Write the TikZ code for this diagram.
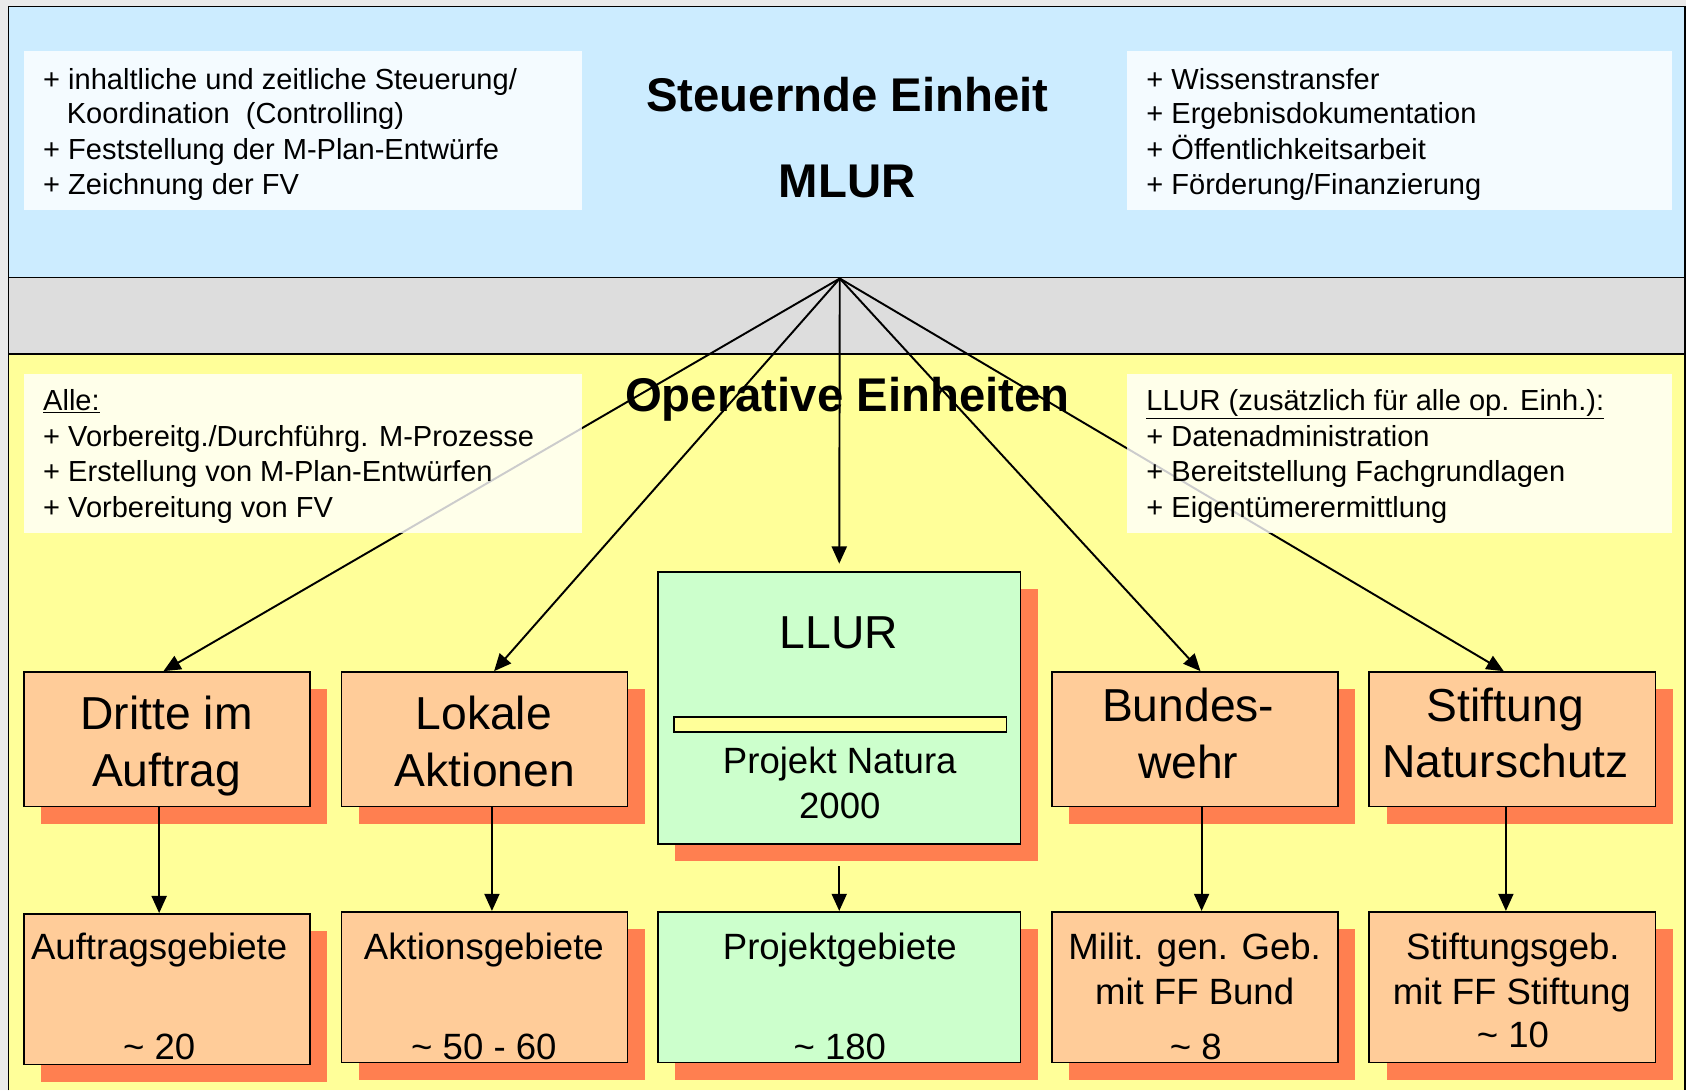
\documentclass[tikz,border=0pt]{standalone}
\usepackage{fontspec}
\setmainfont{Liberation Sans}
\usetikzlibrary{arrows.meta,shadows}
\definecolor{marginc}{HTML}{EAEAEA}
\definecolor{bgblue}{HTML}{CCECFF}
\definecolor{bggray}{HTML}{DDDDDD}
\definecolor{bgyellow}{HTML}{FFFF99}
\definecolor{peach}{HTML}{FFCC99}
\definecolor{shadowc}{HTML}{FF7F50}
\definecolor{lgreen}{HTML}{CCFFCC}
\newcommand{\fsmall}{\fontsize{27}{33}\selectfont}
\newcommand{\fbig}{\fontsize{43}{53}\selectfont}
\newcommand{\fmid}{\fontsize{34}{42}\selectfont}
\newcommand{\ftitle}{\fontsize{44}{52}\selectfont\bfseries}
\begin{document}
\begin{tikzpicture}[x=1pt,y=-1pt,
  infobox/.style={fill=white, fill opacity=0.8, draw=none, inner sep=0, minimum height=148pt},
  stxt/.style={inner sep=0, anchor=base west, font=\fsmall},
  btxt/.style={inner sep=0, anchor=base, font=\fbig},
  mtxt/.style={inner sep=0, anchor=base, font=\fmid},
  ttxt/.style={inner sep=0, anchor=base, font=\ftitle},
  orgbox/.style={draw=black, line width=1.6pt, inner sep=0,
     drop shadow={shadow xshift=16pt, shadow yshift=-16pt, fill=shadowc, draw=none, opacity=1}},
  peachbox/.style={orgbox, fill=peach, minimum width=266pt},
  greenbox/.style={orgbox, fill=lgreen, minimum width=337pt},
  arr/.style={line width=1.8pt, -{Triangle[length=16pt,width=14pt]}}
]
% background
\fill[marginc] (0,0) rectangle (1568,1014);
\useasboundingbox (0,0) rectangle (1568,1014);
\fill[bgblue] (8,6) rectangle (1567,258);
\fill[bggray] (8,258) rectangle (1567,329);
\fill[bgyellow] (8,329) rectangle (1567,1014);
\draw[line width=1.5pt] (8,1014) -- (8,6) -- (1567,6) -- (1567,1014);
\draw[line width=1.5pt] (8,258) -- (1567,258);
\draw[line width=1.5pt] (8,329) -- (1567,329);

% titles
\node[ttxt] (t1) at (788,104) {Steuernde Einheit};
\node[ttxt] (t2) at (788,184) {MLUR};
\node[ttxt] (t3) at (788,383) {Operative Einheiten};

% boxes (positions)
\coordinate (hub) at (781,259);
\node[peachbox, minimum height=125pt] (dritte) at (155,687.5) {};
\node[peachbox, minimum height=125pt] (lokale) at (450.5,687.5) {};
\node[greenbox, minimum height=253pt] (llur) at (780.5,658.5) {};
\node[peachbox, minimum height=125pt] (bund) at (1111.5,687.5) {};
\node[peachbox, minimum height=125pt] (stift) at (1406.5,687.5) {};

\node[peachbox, minimum height=140pt] (auf) at (155,920) {};
\node[peachbox, minimum height=140pt] (akt) at (450.5,918) {};
\node[greenbox, minimum height=140pt] (proj) at (780.5,918) {};
\node[peachbox, minimum height=140pt] (mil) at (1111.5,918) {};
\node[peachbox, minimum height=140pt] (stg) at (1406.5,918) {};

% arrows from hub
\draw[arr] (hub) -- ([xshift=-3pt]dritte.north);
\draw[arr] (hub) -- ([xshift=9pt]lokale.north);
\draw[arr] (hub) -- ([yshift=7pt]llur.north);
\draw[arr] (hub) -- ([xshift=5pt]bund.north);
\draw[arr] (hub) -- ([xshift=-8pt]stift.north);

% info boxes
\node[infobox, minimum width=519pt] (tl) at (281.5,121) {};
\node[infobox, minimum width=507pt] (tr) at (1301.5,121) {};
\node[infobox, minimum width=519pt] (bl) at (281.5,422) {};
\node[infobox, minimum width=507pt] (br) at (1301.5,422) {};

\node[stxt] (tl1) at (40,83) {+ inhaltliche und zeitliche Steuerung/};
\node[stxt] (tl2) at (62,115) {Koordination\ \ (Controlling)};
\node[stxt] (tl3) at (40,148) {+ Feststellung der M-Plan-Entwürfe};
\node[stxt] (tl4) at (40,181) {+ Zeichnung der FV};

\node[stxt] (tr1) at (1066,83) {+ Wissenstransfer};
\node[stxt] (tr2) at (1066,115) {+ Ergebnisdokumentation};
\node[stxt] (tr3) at (1066,148) {+ Öffentlichkeitsarbeit};
\node[stxt] (tr4) at (1066,181) {+ Förderung/Finanzierung};

\node[stxt] (bl1) at (40,382) {\underline{Alle:}};
\node[stxt] (bl2) at (40,415) {+ Vorbereitg./Durchführg. M-Prozesse};
\node[stxt] (bl3) at (40,448) {+ Erstellung von M-Plan-Entwürfen};
\node[stxt] (bl4) at (40,481) {+ Vorbereitung von FV};

\node[stxt] (br1) at (1066,382) {\underline{LLUR (zusätzlich für alle op. Einh.):}};
\node[stxt] (br2) at (1066,415) {+ Datenadministration};
\node[stxt] (br3) at (1066,448) {+ Bereitstellung Fachgrundlagen};
\node[stxt] (br4) at (1066,481) {+ Eigentümerermittlung};

% LLUR inner bar
\node[draw=black, line width=1.5pt, fill=bgyellow, minimum width=309pt, minimum height=14pt, inner sep=0] (bar) at (781.5,674) {};

% box texts row 1
\node[btxt] (d1) at (155,678) {Dritte im};
\node[btxt] (d2) at (155,731) {Auftrag};
\node[btxt] (l1) at (450,678) {Lokale};
\node[btxt] (l2) at (451,731) {Aktionen};
\node[btxt] (u1) at (780,603) {LLUR};
\node[mtxt] (u2) at (781,719) {Projekt Natura};
\node[mtxt] (u3) at (781,761) {2000};
\node[btxt] (b1) at (1105,671) {Bundes-};
\node[btxt] (b2) at (1105,724) {wehr};
\node[btxt] (s1) at (1400,671) {Stiftung};
\node[btxt] (s2) at (1400,723) {Naturschutz};

% box texts row 2
\node[mtxt] (a1) at (148,892) {Auftragsgebiete};
\node[mtxt] (a2) at (148,985) {\textasciitilde\ 20};
\node[mtxt] (k1) at (450,892) {Aktionsgebiete};
\node[mtxt] (k2) at (450,985) {\textasciitilde\ 50 - 60};
\node[mtxt] (p1) at (781,892) {Projektgebiete};
\node[mtxt] (p2) at (781,985) {\textasciitilde\ 180};
\node[mtxt] (m1) at (1111,892) {Milit. gen. Geb.};
\node[mtxt] (m2) at (1111,934) {mit FF Bund};
\node[mtxt] (m3) at (1112,985) {\textasciitilde\ 8};
\node[mtxt] (g1) at (1407,892) {Stiftungsgeb.};
\node[mtxt] (g2) at (1406,934) {mit FF Stiftung};
\node[mtxt] (g3) at (1407,974) {\textasciitilde\ 10};

% arrows row 1 -> row 2
\draw[arr] ([xshift=-7pt]dritte.south) -- ([xshift=-7pt]auf.north);
\draw[arr] ([xshift=7pt]lokale.south) -- ([xshift=7pt]akt.north);
\draw[arr] ([yshift=-20pt]llur.south) -- (proj.north);
\draw[arr] ([xshift=6pt]bund.south) -- ([xshift=6pt]mil.north);
\draw[arr] ([xshift=-6pt]stift.south) -- ([xshift=-6pt]stg.north);
\end{tikzpicture}
\end{document}
